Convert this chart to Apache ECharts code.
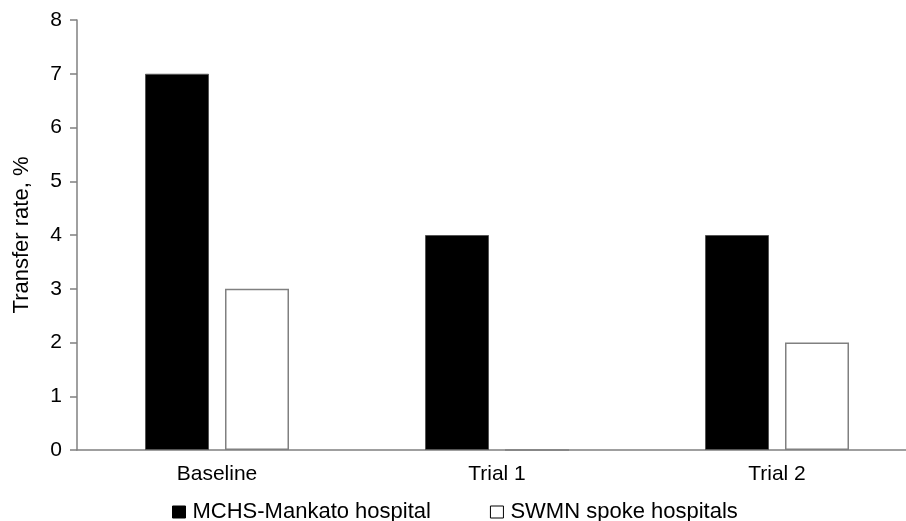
<!DOCTYPE html>
<html><head><meta charset="utf-8">
<script src="https://cdn.jsdelivr.net/npm/echarts@6/dist/echarts.min.js"></script>
<style>html,body{margin:0;padding:0;background:#fff;overflow:hidden;width:906px;height:521px}#c{width:920px;height:521px}</style>
</head><body><div id="c"></div>
<script>
const categories = ['Baseline', 'Trial 1', 'Trial 2'];
const mchsValues = [7, 4, 4];
const swmnValues = [3, 0, 2];
const seriesNames = ['MCHS-Mankato hospital', 'SWMN spoke hospitals'];
const yAxisTitle = 'Transfer rate, %';

const font = 'Liberation Sans, Arial, sans-serif';
const chart = echarts.init(document.getElementById('c'));
chart.setOption({
  animation: false,
  backgroundColor: '#fff',
  grid: { left: 77, right: 3, top: 20, bottom: 71, containLabel: false },
  legend: {
    left: 172, top: 501, padding: 0,
    itemWidth: 13, itemHeight: 12, itemGap: 59,
    textStyle: { fontFamily: font, fontSize: 22, color: '#000', padding: [0, 0, 0, 2] },
    data: [
      { name: seriesNames[0], icon: 'rect', itemStyle: { color: '#000', borderColor: '#000', borderWidth: 1 } },
      { name: seriesNames[1], icon: 'rect', itemStyle: { color: '#fff', borderColor: '#000', borderWidth: 1 } }
    ]
  },
  xAxis: {
    type: 'category', data: categories,
    axisLine: { lineStyle: { color: '#808080', width: 1.5 } },
    axisTick: { show: false },
    axisLabel: { fontFamily: font, fontSize: 21, color: '#000', margin: 14 }
  },
  yAxis: {
    type: 'value', min: 0, max: 8, interval: 1,
    name: yAxisTitle, nameLocation: 'middle', nameGap: 44,
    nameTextStyle: { fontFamily: font, fontSize: 22, color: '#000' },
    axisLine: { show: true, lineStyle: { color: '#808080', width: 1.5 } },
    axisTick: { show: true, length: 7, lineStyle: { color: '#808080', width: 1.5 } },
    axisLabel: { fontFamily: font, fontSize: 21, color: '#000', margin: 15 },
    splitLine: { show: false }
  },
  series: [
    { name: seriesNames[0], type: 'bar', data: mchsValues, barWidth: 64, barGap: '25%',
      itemStyle: { color: '#000', borderColor: '#555', borderWidth: 1 } },
    { name: seriesNames[1], type: 'bar', data: swmnValues, barWidth: 64,
      itemStyle: { color: '#fff', borderColor: '#808080', borderWidth: 1.5 } }
  ]
});
</script></body></html>
